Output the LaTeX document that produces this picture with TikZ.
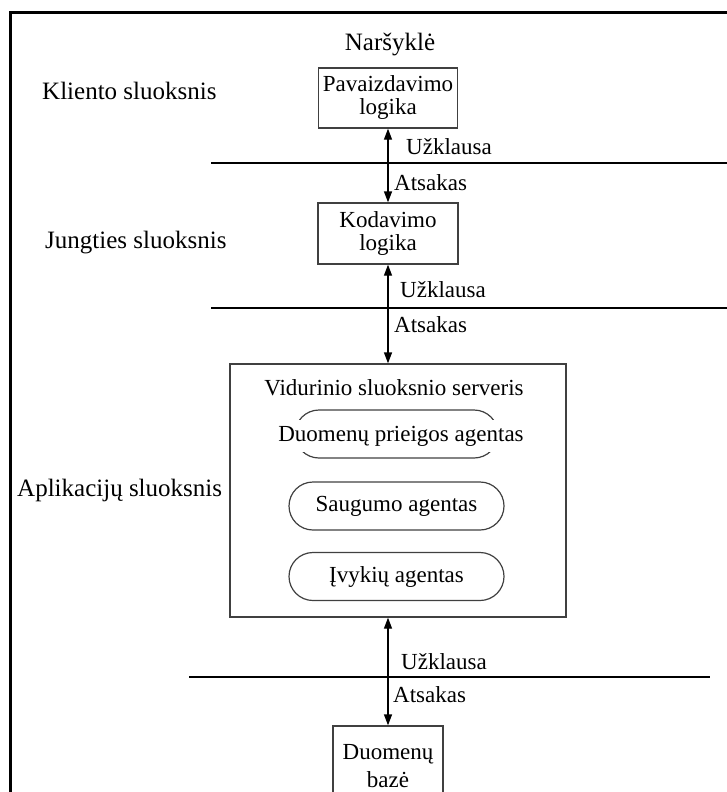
\documentclass[tikz,border=0pt]{standalone}
\usepackage{fontspec}
\setmainfont{Liberation Serif}
\usetikzlibrary{arrows.meta}

\begin{document}
\begin{tikzpicture}[x=1pt,y=-1pt,>={Triangle[length=11pt,width=8pt]},
  txt/.style={font=\fontsize{23}{24}\selectfont,inner sep=0pt},
  layer/.style={font=\fontsize{25}{27}\selectfont,inner sep=0pt,anchor=west},
  box/.style={draw=black!75,line width=1.3pt,align=center,inner sep=0pt,
    font=\fontsize{23}{23}\selectfont},
  pill/.style={draw=black!75,line width=1.2pt,rounded corners=24pt,
    minimum width=215pt,minimum height=48pt,font=\fontsize{23}{24}\selectfont},
  sep/.style={line width=1.4pt}]
  \clip (0,0) rectangle (727,792);
  \draw[line width=3pt] (10,800) -- (10,13) -- (740,13);

  % layers
  \node[layer,anchor=center] (browser) at (390,45) {Naršyklė};
  \node[layer] (client) at (42,91) {Kliento sluoksnis};
  \node[layer] (joint) at (45,243) {Jungties sluoksnis};
  \node[layer] (app) at (17,490) {Aplikacijų sluoksnis};

  % boxes
  \node[box,minimum width=139pt,minimum height=60pt] (pres) at (388,98) {Pavaizdavimo\\logika};
  \node[box,minimum width=140pt,minimum height=61pt] (cod) at (388,233.5) {Kodavimo\\logika};
  \node[draw=black!75,line width=1.3pt,minimum width=336pt,minimum height=253pt] (server) at (398,490.5) {};
  \node[box,minimum width=110pt,minimum height=80pt,font=\fontsize{23}{28}\selectfont] (db) at (388,766) {Duomenų\\bazė};

  % server content
  \node[txt] (srvtitle) at (394,388) {Vidurinio sluoksnio serveris};
  \node[pill,minimum width=203pt] (dpa) at (396.5,434) {};
  \node[txt,fill=white,inner xsep=2pt,inner ysep=6pt] (dpatxt) at (401,436) {Duomenų prieigos agentas};
  \node[pill] (sec) at (396.5,506) {Saugumo agentas};
  \node[pill] (evt) at (396.5,576.5) {Įvykių agentas};

  % arrows
  \draw[<->,line width=1.3pt] (pres) -- (cod);
  \draw[<->,line width=1.3pt] (cod) -- (server.north -| cod);
  \draw[<->,line width=1.3pt] (server.south -| db) -- (db);

  % separators
  \draw[sep] (211,163) -- (727,163);
  \draw[sep] (211,308) -- (727,308);
  \draw[sep] (189,677) -- (710,677);
  \node[txt,anchor=west] (req1) at (406,147) {Užklausa};
  \node[txt,anchor=west] (resp1) at (394,183) {Atsakas};
  \node[txt,anchor=west] (req2) at (400,290) {Užklausa};
  \node[txt,anchor=west] (resp2) at (394,325) {Atsakas};
  \node[txt,anchor=west] (req3) at (401,662) {Užklausa};
  \node[txt,anchor=west] (resp3) at (393,695) {Atsakas};
\end{tikzpicture}
\end{document}
